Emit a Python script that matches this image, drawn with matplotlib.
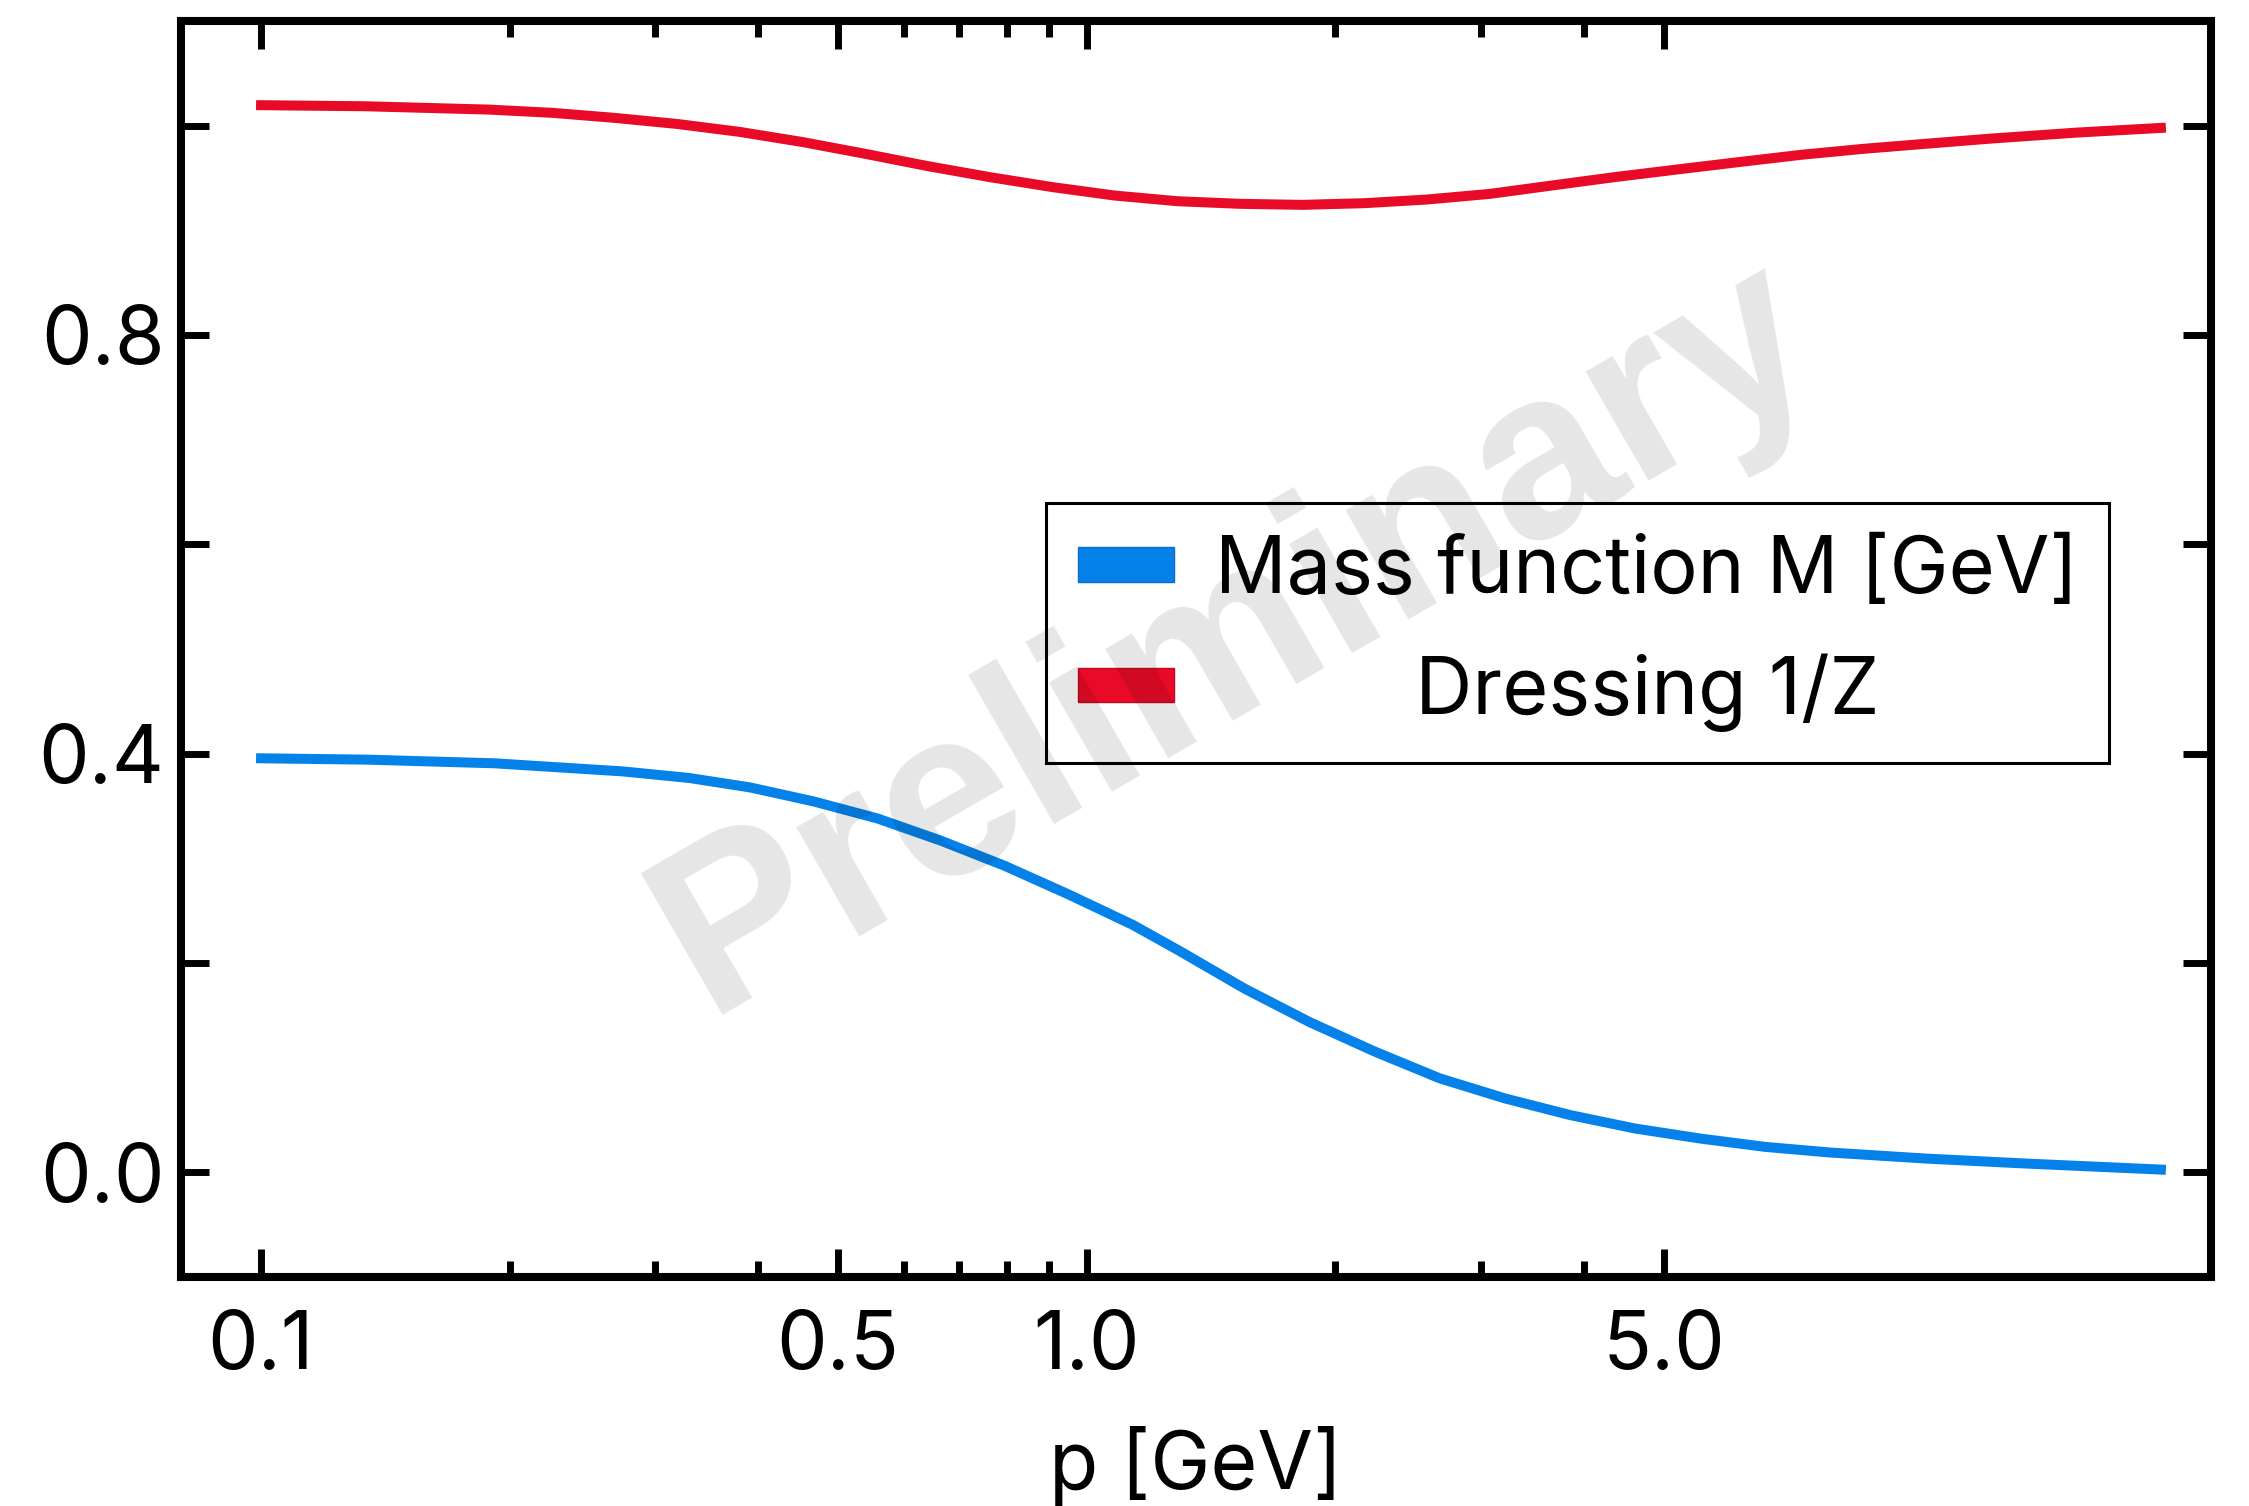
import matplotlib
matplotlib.use("Agg")
import matplotlib.pyplot as plt
from matplotlib.patches import Patch

plt.rcParams['font.family'] = ['Inter', 'DejaVu Sans']

# ---- data ----
p_red = [0.1, 0.1336, 0.189, 0.2254, 0.268, 0.319, 0.38, 0.452, 0.538, 0.641,
         0.763, 0.908, 1.081, 1.287, 1.532, 1.824, 2.17, 2.584, 3.08, 3.66,
         4.36, 5.19, 6.17, 7.35, 8.75, 10.4, 12.4, 15.8, 20.0]
z_red = [1.0195, 1.0185, 1.0153, 1.0122, 1.0074, 1.0016, 0.994, 0.9844, 0.9732,
         0.9614, 0.9508, 0.9413, 0.9332, 0.9278, 0.9253, 0.9243, 0.9259, 0.9294,
         0.9348, 0.9428, 0.9508, 0.9581, 0.9652, 0.9722, 0.9779, 0.9827, 0.9875,
         0.9933, 0.9978]

p_blue = [0.1, 0.1346, 0.192, 0.274, 0.33, 0.391, 0.467, 0.558, 0.667, 0.796,
          0.951, 1.137, 1.296, 1.553, 1.862, 2.232, 2.676, 3.21, 3.85, 4.61,
          5.53, 6.63, 7.95, 10.4, 13.7, 20.0]
m_blue = [0.3956, 0.3943, 0.3908, 0.3831, 0.3768, 0.3678, 0.3544, 0.3381, 0.3167,
          0.2928, 0.2655, 0.2365, 0.2115, 0.1756, 0.1436, 0.1155, 0.0899, 0.0707,
          0.0548, 0.0420, 0.0324, 0.0244, 0.0190, 0.0132, 0.0085, 0.0027]

labels = ['Mass function M [GeV]', '         Dressing 1/Z']
xticks_major = [0.1, 0.5, 1.0, 5.0]
xticklabels = ['0.1', '0.5', '1.0', '5.0']
xticks_minor = [0.2, 0.3, 0.4, 0.6, 0.7, 0.8, 0.9, 2, 3, 4]
yticks = [0.0, 0.2, 0.4, 0.6, 0.8, 1.0]
yticklabels = ['0.0', '', '0.4', '', '0.8', '']

BLUE = '#0482EA'
RED = '#E80A26'

fig = plt.figure(figsize=(22.49, 15.06), dpi=100)
ax = fig.add_axes([0.0805, 0.152, 0.9026, 0.8341])

ax.plot(p_blue, m_blue, color=BLUE, lw=7.2, zorder=3)
ax.plot(p_red, z_red, color=RED, lw=7.2, zorder=3)

ax.set_xscale('log')
ax.set_xlim(0.08, 23)
ax.set_ylim(-0.1, 1.1)

ax.set_xticks(xticks_major)
ax.set_xticklabels(xticklabels)
ax.set_yticks(yticks)
ax.set_yticklabels(yticklabels)
ax.yaxis.set_minor_locator(matplotlib.ticker.NullLocator())
ax.set_xticks(xticks_minor, minor=True)
ax.set_xticklabels([''] * len(xticks_minor), minor=True)

ax.tick_params(which='both', direction='in', top=True, right=True, width=5, labelsize=58)
ax.tick_params(which='major', length=20)
ax.tick_params(which='minor', length=11.5)
ax.tick_params(axis='x', which='both', pad=23.5)
ax.tick_params(axis='y', which='both', pad=12)

for s in ax.spines.values():
    s.set_linewidth(5.8)

ax.set_xlabel('p [GeV]', fontsize=58, labelpad=29)

handles = [Patch(facecolor=BLUE, edgecolor='#0a6ccc', linewidth=1),
           Patch(facecolor=RED, edgecolor='#c00a22', linewidth=1)]
leg = ax.legend(handles, labels, loc='upper right', bbox_to_anchor=(0.950, 0.616),
                fontsize=57, frameon=True, fancybox=False, edgecolor='black',
                framealpha=1, handlelength=1.22, handleheight=0.29,
                handletextpad=0.51, labelspacing=0.56, borderpad=0.4,
                borderaxespad=0)
leg.get_frame().set_linewidth(2.2)

ax.text(0.52, 0.508, 'Preliminary', transform=ax.transAxes, rotation=30,
        fontsize=171, fontweight='bold', family='Liberation Sans',
        color='black', alpha=0.1, ha='center', va='center', zorder=10)

fig.savefig('out.png', dpi=100)
